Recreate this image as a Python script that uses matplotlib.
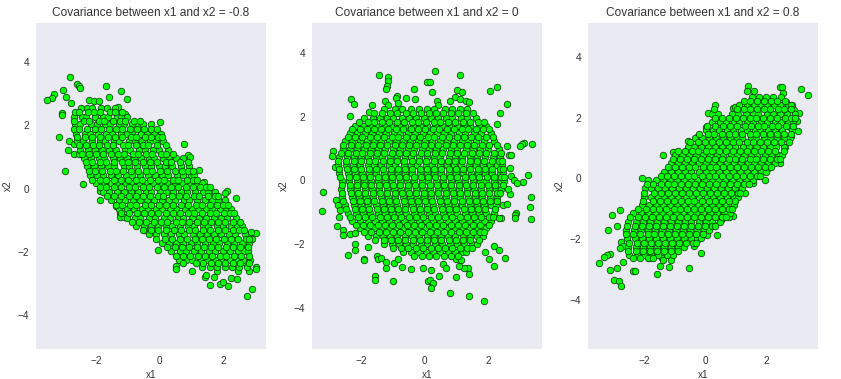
import matplotlib
matplotlib.use("Agg")
import matplotlib.pyplot as plt

TITLES = ["Covariance between x1 and x2 = -0.8", "Covariance between x1 and x2 = 0", "Covariance between x1 and x2 = 0.8"]
X_TICKS = [-2, 0, 2]
Y_TICKS = [-4, -2, 0, 2, 4]

# values: stray points first, then the dense middle as (x2, [x1, ...]) rows
neg_stray = [(-2.8,3.51),(-2.58,3.32),(-2.52,3.24),(-2.5,3.17),(-1.7,3.23),(-1.2,3.07),(-1.04,2.82),(-1.58,2.91),
    (-3.02,3.13),(-3.33,3.0),(-3.39,2.85),(-3.52,2.79),(-2.93,2.91),(-2.77,2.72),(-3.05,2.4),(-3.05,2.32),
    (-3.15,1.62),(-2.86,1.52),(-2.7,1.4),(-2.89,1.21),(-2.68,1.11),(-2.52,1.08),(-2.96,0.55),(-2.42,0.14),
    (-2.61,1.87),(-1.86,-0.06),(-1.86,-0.37),(-0.48,-1.31),(-0.07,-1.95),(0.77,1.4),(2.4,-0.3),(2.74,-3.39),
    (2.9,-3.18),(3.01,-2.46),(3.01,-2.54),(3.03,-1.41),(2.85,-1.38),(2.88,-1.6),(2.81,-2.59),(1.56,-3.05),
    (1.89,-3.02),(1.97,-2.94),(2.15,-3.07),(1.41,-2.79),(1.45,-2.72),(0.52,-2.44),(0.52,-2.52),(1.02,-2.61),
    (1.71,-2.8),(2.22,-2.83),(2.43,-2.86),(0.0,2.09),(0.87,1.06),(0.95,1.01),(1.24,0.58),(1.4,0.22),
    (2.1,-0.06),(2.06,-0.15),(-1.53,-0.25),(-1.37,-0.55),(-1.26,-0.78),(-1.24,-0.9),(-1.11,-0.9),(2.75,-1.85),
    (2.62,-2.3),(2.45,-2.6),(1.8,-2.6),(-1.3,2.58),(-1.08,2.37),(-2.22,2.8),(-2.05,2.76),(-1.9,2.78)]
neg_rows = [
    (2.55, [-2.47,-2.28,-2.11,-1.83,-1.66,-1.39]),
    (2.27, [-2.69,-2.44,-2.31,-2.02,-1.79,-1.62,-1.33,-1.21,-1.03]),
    (2.03, [-2.66,-2.49,-2.17,-1.98,-1.71,-1.56,-1.27,-1.12,-0.88,-0.67,-0.53,-0.26]),
    (1.74, [-2.63,-2.35,-2.19,-1.94,-1.68,-1.51,-1.22,-1.03,-0.86,-0.58,-0.41,-0.19,0.03]),
    (1.52, [-2.58,-2.41,-2.14,-1.87,-1.72,-1.43,-1.28,-0.97,-0.79,-0.55,-0.32,-0.13,0.09]),
    (1.23, [-2.49,-2.26,-2.03,-1.81,-1.58,-1.37,-1.09,-0.93,-0.64,-0.47,-0.21,-0.02,0.27]),
    (0.97, [-2.38,-2.16,-1.92,-1.74,-1.47,-1.24,-1.02,-0.81,-0.59,-0.33,-0.17,0.11,0.29,0.52,0.74]),
    (0.71, [-2.29,-2.07,-1.85,-1.61,-1.42,-1.13,-0.96,-0.72,-0.46,-0.29,-0.03,0.16,0.38,0.66,0.93]),
    (0.42, [-2.18,-1.97,-1.78,-1.52,-1.31,-1.06,-0.87,-0.63,-0.38,-0.14,0.08,0.27,0.55,0.73,0.98,1.08]),
    (0.18, [-1.99,-1.76,-1.54,-1.34,-1.08,-0.89,-0.66,-0.41,-0.22,0.04,0.23,0.47,0.69,0.94,1.13,1.33]),
    (-0.11, [-1.78,-1.59,-1.33,-1.12,-0.91,-0.69,-0.44,-0.26,0.02,0.18,0.43,0.67,0.86,1.11,1.36,1.52,1.73]),
    (-0.36, [-1.53,-1.28,-1.09,-0.83,-0.62,-0.39,-0.18,0.06,0.29,0.48,0.76,0.93,1.17,1.41,1.63,1.82,2.03]),
    (-0.64, [-1.27,-1.04,-0.82,-0.57,-0.38,-0.11,0.07,0.33,0.52,0.78,1.01,1.19,1.46,1.64,1.88,2.07,2.24]),
    (-0.92, [-1.04,-0.79,-0.61,-0.33,-0.14,0.12,0.31,0.57,0.74,1.02,1.23,1.44,1.69,1.91,2.12,2.4]),
    (-1.17, [-0.73,-0.49,-0.28,-0.06,0.19,0.38,0.63,0.88,1.07,1.34,1.52,1.78,1.97,2.22,2.41,2.58]),
    (-1.43, [-0.33,-0.12,0.13,0.34,0.59,0.77,1.04,1.26,1.47,1.71,1.93,2.17,2.36,2.68]),
    (-1.72, [0.07,0.29,0.51,0.73,0.99,1.18,1.42,1.66,1.87,2.11,2.33,2.57,2.79]),
    (-1.96, [0.36,0.62,0.83,1.06,1.29,1.53,1.72,1.98,2.21,2.44,2.63,2.78]),
    (-2.24, [0.59,0.81,1.02,1.28,1.49,1.74,1.93,2.19,2.38,2.61,2.84]),
    (-2.47, [1.31,1.58,1.79,2.03,2.27,2.49,2.73]),
    (2.41, [-2.66,-2.53,-2.24,-2.07,-1.88,-1.57,-1.41,-1.18]),
    (2.14, [-2.7,-2.39,-2.22,-1.91,-1.74,-1.48,-1.26,-1.08,-0.81,-0.62]),
    (1.88, [-2.68,-2.52,-2.29,-2.04,-1.83,-1.59,-1.36,-1.17,-0.94,-0.71,-0.48,-0.29,-0.08]),
    (1.63, [-2.61,-2.33,-2.12,-1.86,-1.63,-1.39,-1.18,-0.91,-0.74,-0.46,-0.27,-0.06,0.08]),
    (1.37, [-2.54,-2.31,-2.08,-1.9,-1.64,-1.46,-1.16,-0.99,-0.76,-0.52,-0.36,-0.09,0.18]),
    (1.09, [-2.44,-2.21,-1.99,-1.77,-1.54,-1.32,-1.11,-0.84,-0.68,-0.42,-0.23,0.03,0.21,0.43]),
    (0.84, [-2.32,-2.13,-1.88,-1.69,-1.44,-1.19,-0.99,-0.77,-0.53,-0.31,-0.08,0.19,0.36,0.62,0.87]),
    (0.56, [-2.23,-2.02,-1.81,-1.57,-1.36,-1.14,-0.91,-0.68,-0.44,-0.24,0.02,0.22,0.47,0.71,0.89,1.03]),
    (0.29, [-2.12,-1.88,-1.69,-1.43,-1.21,-1.01,-0.74,-0.56,-0.31,-0.07,0.13,0.41,0.58,0.84,1.03,1.18]),
    (0.04, [-1.88,-1.67,-1.42,-1.23,-0.97,-0.78,-0.53,-0.33,-0.09,0.14,0.36,0.57,0.82,1.03,1.26,1.44,1.57]),
    (-0.23, [-1.66,-1.44,-1.21,-0.98,-0.76,-0.53,-0.32,-0.07,0.11,0.37,0.59,0.81,1.06,1.24,1.51,1.72,1.84]),
    (-0.51, [-1.38,-1.17,-0.94,-0.73,-0.47,-0.26,-0.03,0.21,0.42,0.66,0.87,1.13,1.32,1.56,1.79,1.99,2.14]),
    (-0.78, [-1.21,-0.96,-0.72,-0.49,-0.27,-0.04,0.19,0.41,0.64,0.89,1.08,1.33,1.57,1.76,2.02,2.21,2.34]),
    (-1.05, [-0.87,-0.64,-0.43,-0.19,0.04,0.24,0.51,0.71,0.93,1.16,1.39,1.61,1.84,2.06,2.29,2.52]),
    (-1.31, [-0.53,-0.26,-0.04,0.21,0.44,0.66,0.91,1.11,1.37,1.58,1.82,2.03,2.28,2.47,2.64]),
    (-1.58, [-0.11,0.16,0.39,0.62,0.84,1.09,1.31,1.53,1.77,2.01,2.23,2.46,2.69,2.79]),
    (-1.84, [0.23,0.47,0.71,0.92,1.17,1.38,1.62,1.84,2.07,2.31,2.52,2.76]),
    (-2.11, [0.51,0.74,0.94,1.19,1.41,1.63,1.88,2.09,2.33,2.54,2.79]),
    (-2.36, [0.73,1.12,1.36,1.61,1.82,2.06,2.29,2.51,2.81]),
]

zero_stray = [(0.34,3.42),(1.12,3.3),(-1.42,3.3),(-1.14,3.23),(-1.14,3.11),(-1.18,2.97),(-1.2,2.86),(-0.32,2.86),(0.06,3.08),
    (0.16,3.08),(0.22,2.76),(1.02,2.84),(1.18,2.76),(2.05,2.8),(2.28,2.92),(2.6,2.39),(2.37,2.1),(2.28,1.76),(-2.3,2.54),
    (-2.21,2.39),(-2.34,2.03),(-1.64,2.36),(-1.74,2.14),(-0.58,2.58),(-0.29,2.54),(-0.86,2.64),(-0.89,2.58),(-0.83,2.42),
    (3.36,1.13),(3.13,1.16),(3.07,1.13),(3.0,1.07),(2.6,1.07),(2.66,0.79),(2.72,0.79),(2.69,0.38),(2.72,0.13),(3.26,0.16),
    (3.1,-0.06),(2.82,0.0),(2.91,-0.09),(2.69,-0.44),(2.63,-0.28),(3.35,-0.53),(3.32,-0.85),(3.35,-1.23),(2.88,-1.04),
    (2.85,-1.1),(2.85,-1.19),(2.41,-1.19),(2.35,-1.19),(2.47,-0.79),(2.6,-0.75),(-3.18,-0.38),(-3.21,-0.97),(-2.87,0.92),
    (-2.9,0.75),(-2.81,0.41),(-2.77,-0.63),(-2.71,-0.79),(-2.59,-0.63),(-2.65,-0.94),(-2.68,-1.16),(-2.74,-1.45),(-2.55,-1.57),
    (-2.55,-1.73),(-2.34,-1.7),(-2.18,-1.66),(-2.18,-2.01),(-2.18,-2.2),(-2.4,-2.36),(-1.9,-2.48),(-1.9,-2.51),(-1.77,-2.1),
    (-1.49,-2.39),(-1.46,-2.48),(-1.36,-2.45),(-1.2,-2.76),(-1.2,-2.58),(-1.55,-3.02),(-1.55,-3.14),(-0.98,-3.17),(-0.7,-2.73),
    (-0.42,-2.8),(-0.04,-2.76),(-0.95,-2.61),(-0.83,-2.48),(0.21,-2.83),(0.12,-3.17),(0.18,-3.14),(0.27,-3.24),(0.21,-3.39),
    (0.46,-3.02),(0.81,-3.55),(1.4,-3.64),(1.87,-3.8),(0.99,-3.05),(1.4,-2.95),(1.37,-2.76),(1.25,-2.76),(1.09,-2.7),(0.59,-2.64),
    (0.68,-2.76),(2.19,-2.7),(2.03,-2.48),(2.53,-2.45),(2.35,-2.2),(2.19,-2.07),(1.91,-2.26),(0.99,-2.48),(1.15,-2.51),
    (0.4,2.5),(0.42,2.38),(0.8,2.48),(0.95,2.6),(1.1,2.55),(1.3,2.48),(1.4,2.45),(-1.25,2.5),(-1.15,2.35)]
zero_rows = [
    (2.25, [-1.27,-0.93,-0.71,-0.44,-0.18,0.09,0.31,0.63,0.87,1.12,1.33]),
    (1.97, [-1.89,-1.62,-1.41,-1.17,-0.98,-0.72,-0.49,-0.28,-0.03,0.19,0.42,0.68,0.86,1.13,1.34,1.61]),
    (1.72, [-2.18,-1.94,-1.73,-1.52,-1.26,-1.07,-0.81,-0.62,-0.36,-0.13,0.07,0.33,0.54,0.77,1.01,1.23,1.44,1.71,1.93]),
    (1.48, [-2.34,-2.12,-1.87,-1.66,-1.44,-1.21,-0.97,-0.76,-0.53,-0.31,-0.06,0.16,0.38,0.62,0.83,1.09,1.27,1.54,1.76,2.08]),
    (1.24, [-2.49,-2.27,-2.04,-1.81,-1.58,-1.36,-1.13,-0.89,-0.67,-0.46,-0.22,0.02,0.24,0.47,0.71,0.92,1.18,1.37,1.62,1.87,2.18]),
    (0.99, [-2.58,-2.36,-2.13,-1.92,-1.67,-1.46,-1.24,-0.99,-0.78,-0.53,-0.34,-0.08,0.13,0.37,0.59,0.84,1.03,1.29,1.52,1.74,1.98,2.33]),
    (0.73, [-2.69,-2.44,-2.22,-2.01,-1.77,-1.54,-1.33,-1.08,-0.87,-0.63,-0.42,-0.17,0.06,0.28,0.49,0.76,0.97,1.19,1.43,1.66,1.89,2.14,2.38]),
    (0.48, [-2.71,-2.48,-2.26,-2.04,-1.79,-1.58,-1.36,-1.11,-0.92,-0.66,-0.44,-0.23,0.03,0.22,0.47,0.69,0.93,1.14,1.38,1.61,1.83,2.07,2.28,2.44]),
    (0.23, [-2.68,-2.42,-2.19,-1.98,-1.74,-1.52,-1.29,-1.06,-0.83,-0.61,-0.39,-0.14,0.08,0.31,0.53,0.77,0.99,1.22,1.46,1.67,1.91,2.12,2.36,2.47]),
    (-0.02, [-2.61,-2.37,-2.14,-1.91,-1.69,-1.47,-1.23,-1.01,-0.77,-0.56,-0.32,-0.09,0.12,0.37,0.58,0.82,1.04,1.26,1.51,1.73,1.94,2.19,2.41,2.5]),
    (-0.27, [-2.62,-2.33,-2.11,-1.87,-1.66,-1.42,-1.19,-0.96,-0.74,-0.52,-0.27,-0.06,0.17,0.41,0.63,0.86,1.07,1.33,1.54,1.78,2.01,2.23,2.41]),
    (-0.52, [-2.59,-2.28,-2.06,-1.83,-1.61,-1.38,-1.16,-0.92,-0.69,-0.47,-0.24,-0.01,0.21,0.46,0.67,0.91,1.12,1.36,1.59,1.81,2.04,2.29]),
    (-0.77, [-2.49,-2.23,-1.99,-1.78,-1.54,-1.32,-1.09,-0.86,-0.63,-0.41,-0.18,0.06,0.27,0.51,0.73,0.96,1.19,1.42,1.64,1.88,2.09,2.24]),
    (-1.02, [-2.41,-2.16,-1.94,-1.71,-1.47,-1.26,-1.02,-0.79,-0.57,-0.34,-0.11,0.13,0.34,0.57,0.81,1.02,1.26,1.48,1.71,1.93,2.19]),
    (-1.27, [-2.29,-2.02,-1.79,-1.57,-1.34,-1.11,-0.88,-0.66,-0.43,-0.19,0.03,0.26,0.48,0.72,0.94,1.17,1.41,1.63,1.86,2.09]),
    (-1.51, [-2.04,-1.81,-1.59,-1.36,-1.13,-0.91,-0.68,-0.44,-0.22,0.01,0.24,0.47,0.69,0.93,1.16,1.38,1.62,1.83,1.94]),
    (-1.76, [-1.79,-1.54,-1.31,-1.08,-0.86,-0.63,-0.41,-0.17,0.06,0.28,0.52,0.74,0.97,1.21,1.43,1.66,1.84]),
    (-2.01, [-1.29,-1.04,-0.82,-0.59,-0.36,-0.12,0.09,0.33,0.56,0.79,1.03,1.24,1.49,1.64]),
    (-2.26, [-0.69,-0.43,-0.21,0.04,0.27,0.49,0.73,0.96,1.18,1.29]),
    (2.12, [-1.58,-1.33,-1.09,-0.86,-0.58,-0.37,-0.11,0.14,0.36,0.58,0.82,1.06,1.29,1.51]),
    (1.84, [-2.06,-1.79,-1.58,-1.33,-1.12,-0.87,-0.66,-0.41,-0.21,0.04,0.28,0.49,0.74,0.94,1.21,1.42,1.68,1.86]),
    (1.61, [-2.27,-2.03,-1.81,-1.59,-1.36,-1.14,-0.89,-0.68,-0.43,-0.22,0.02,0.26,0.46,0.71,0.93,1.16,1.37,1.61,1.84,2.03]),
    (1.37, [-2.42,-2.19,-1.96,-1.73,-1.51,-1.29,-1.04,-0.83,-0.58,-0.37,-0.14,0.11,0.31,0.56,0.78,1.01,1.23,1.47,1.69,1.92,2.14]),
    (1.11, [-2.56,-2.31,-2.08,-1.84,-1.63,-1.39,-1.17,-0.94,-0.71,-0.49,-0.26,-0.03,0.19,0.42,0.66,0.88,1.11,1.34,1.56,1.79,2.03,2.27]),
    (0.86, [-2.64,-2.4,-2.17,-1.96,-1.71,-1.49,-1.27,-1.03,-0.81,-0.58,-0.36,-0.12,0.09,0.33,0.56,0.79,1.02,1.24,1.48,1.71,1.93,2.17,2.39]),
    (0.61, [-2.71,-2.46,-2.23,-2.01,-1.76,-1.56,-1.31,-1.09,-0.86,-0.64,-0.41,-0.17,0.04,0.28,0.51,0.74,0.97,1.19,1.42,1.66,1.88,2.11,2.34,2.43]),
    (0.36, [-2.7,-2.44,-2.21,-1.99,-1.76,-1.53,-1.31,-1.07,-0.84,-0.62,-0.39,-0.16,0.07,0.29,0.53,0.76,0.98,1.21,1.44,1.68,1.89,2.13,2.37,2.46]),
    (0.11, [-2.66,-2.39,-2.16,-1.94,-1.71,-1.48,-1.26,-1.03,-0.79,-0.57,-0.34,-0.11,0.12,0.34,0.57,0.81,1.03,1.26,1.49,1.72,1.96,2.18,2.41,2.49]),
    (-0.14, [-2.6,-2.36,-2.12,-1.89,-1.67,-1.44,-1.21,-0.99,-0.76,-0.53,-0.29,-0.07,0.16,0.39,0.61,0.84,1.07,1.31,1.53,1.76,1.99,2.22,2.46]),
    (-0.39, [-2.61,-2.31,-2.08,-1.86,-1.63,-1.41,-1.17,-0.94,-0.72,-0.49,-0.26,-0.03,0.19,0.43,0.66,0.88,1.11,1.34,1.57,1.79,2.03,2.26,2.36]),
    (-0.64, [-2.55,-2.26,-2.03,-1.81,-1.58,-1.34,-1.12,-0.89,-0.66,-0.44,-0.21,0.02,0.24,0.48,0.71,0.93,1.16,1.39,1.62,1.84,2.07,2.27]),
    (-0.89, [-2.46,-2.19,-1.97,-1.74,-1.51,-1.28,-1.06,-0.83,-0.61,-0.38,-0.14,0.09,0.31,0.54,0.77,0.99,1.23,1.46,1.68,1.91,2.21]),
    (-1.14, [-2.36,-2.09,-1.86,-1.64,-1.41,-1.18,-0.96,-0.73,-0.49,-0.27,-0.04,0.19,0.41,0.64,0.87,1.11,1.33,1.56,1.78,2.01,2.14]),
    (-1.39, [-2.17,-1.93,-1.71,-1.47,-1.24,-1.02,-0.79,-0.56,-0.33,-0.11,0.14,0.36,0.59,0.82,1.04,1.27,1.51,1.73,2.01]),
    (-1.63, [-1.92,-1.67,-1.44,-1.22,-0.99,-0.76,-0.53,-0.31,-0.07,0.16,0.38,0.61,0.84,1.07,1.29,1.53,1.74,1.88]),
    (-1.88, [-1.56,-1.29,-1.07,-0.84,-0.61,-0.38,-0.16,0.08,0.31,0.53,0.76,0.99,1.22,1.44,1.72]),
    (-2.13, [-0.98,-0.73,-0.51,-0.28,-0.04,0.19,0.42,0.64,0.87,1.11,1.33,1.49]),
    (-2.38, [-0.33,-0.09,0.14,0.37,0.61,0.84,1.06]),
]

pos_stray = [(3.13,2.93),(3.37,2.74),(1.4,3.03),(1.37,2.87),(1.6,2.87),(2.45,3.0),(2.53,3.0),(2.55,2.8),(0.32,2.41),(-1.39,0.76),
    (-2.08,0.0),(1.96,-0.07),(1.3,-0.49),(0.38,-1.88),(0.05,-1.88),(-0.14,-2.47),(-0.54,-2.97),(-1.59,-3.16),(-1.49,-2.9),
    (-1.19,-2.93),(-2.8,-1.05),(-3.07,-1.22),(-2.9,-1.58),(-3.2,-1.71),(-2.77,-2.11),(-2.71,-2.24),(-2.8,-2.31),(-3.13,-2.49),
    (-3.23,-2.54),(-3.33,-2.6),(-3.49,-2.8),(-3.13,-3.03),(-2.9,-2.97),(-3.0,-3.36),(-2.84,-3.4),(-2.77,-3.56),(-2.71,-2.77),
    (-2.38,-3.07),(-2.31,-3.07),(-1.85,-2.64),(-1.42,-2.64),(-1.39,-2.7),(-1.13,-2.7),(-1.06,-2.54),(-1.26,-2.44),(3.04,1.55),
    (3.01,1.88),(3.08,2.14),(2.81,1.38),(2.78,1.68),(2.45,0.49),(2.62,1.02),(2.02,0.32),(1.73,0.07),(1.56,-0.16),(0.91,-1.26),
    (0.78,-1.29),(0.51,-1.38),(0.25,-1.52),(0.94,-0.79),(-0.27,-2.04),(-0.37,-2.24),(-0.77,-2.21),(-1.0,0.86),(-1.06,0.86),
    (-0.57,1.22),(-0.24,1.38),(0.09,2.14),(0.02,1.68),(0.91,2.31),(0.97,2.34),(1.5,2.45),(2.85,2.4),(2.9,2.25),(2.65,2.5)]
pos_rows = [
    (2.68, [1.52,1.77,1.98,2.23,2.47]),
    (2.41, [1.12,1.37,1.61,1.79,2.03,2.26,2.44,2.71,2.83]),
    (2.13, [0.23,0.41,0.87,1.09,1.33,1.56,1.74,2.01,2.22,2.46,2.68,2.93]),
    (1.86, [0.22,0.47,0.69,0.93,1.11,1.37,1.58,1.83,2.04,2.29,2.48,2.73,2.89]),
    (1.58, [0.01,0.26,0.44,0.71,0.92,1.16,1.38,1.62,1.81,2.07,2.28,2.53,2.86]),
    (1.32, [-0.34,-0.11,0.13,0.34,0.57,0.81,1.03,1.22,1.49,1.68,1.93,2.14,2.37,2.58,2.79]),
    (1.04, [-0.58,-0.37,-0.13,0.08,0.32,0.54,0.78,0.97,1.23,1.44,1.67,1.89,2.12,2.33,2.57]),
    (0.77, [-1.0,-0.78,-0.54,-0.31,-0.09,0.14,0.37,0.58,0.83,1.04,1.27,1.49,1.71,1.96,2.17,2.38,2.51]),
    (0.49, [-1.11,-0.89,-0.66,-0.42,-0.21,0.03,0.26,0.47,0.72,0.93,1.16,1.39,1.61,1.84,2.06,2.29]),
    (0.22, [-1.37,-1.13,-0.91,-0.67,-0.46,-0.22,0.01,0.23,0.46,0.69,0.91,1.14,1.38,1.59,1.82,2.0]),
    (-0.06, [-1.87,-1.63,-1.39,-1.17,-0.94,-0.71,-0.48,-0.26,-0.03,0.21,0.43,0.66,0.89,1.11,1.34,1.58]),
    (-0.33, [-1.99,-1.77,-1.54,-1.31,-1.08,-0.86,-0.62,-0.39,-0.17,0.07,0.29,0.52,0.74,0.98,1.21]),
    (-0.61, [-2.02,-1.79,-1.56,-1.34,-1.11,-0.88,-0.64,-0.42,-0.19,0.04,0.26,0.49,0.72,0.94,1.09]),
    (-0.88, [-2.09,-1.84,-1.61,-1.38,-1.16,-0.93,-0.69,-0.47,-0.24,-0.02,0.22,0.44,0.67,0.93]),
    (-1.16, [-2.36,-2.11,-1.88,-1.66,-1.42,-1.19,-0.97,-0.74,-0.51,-0.29,-0.06,0.17,0.39,0.62,0.82]),
    (-1.43, [-2.53,-2.28,-2.04,-1.82,-1.59,-1.37,-1.13,-0.91,-0.68,-0.46,-0.22,0.01,0.23,0.48]),
    (-1.71, [-2.59,-2.33,-2.11,-1.88,-1.64,-1.42,-1.19,-0.96,-0.73,-0.51,-0.27,-0.04,0.11]),
    (-1.98, [-2.58,-2.31,-2.08,-1.86,-1.62,-1.39,-1.17,-0.94,-0.71,-0.48,-0.26,-0.14]),
    (-2.26, [-2.54,-2.29,-2.06,-1.83,-1.59,-1.37,-1.14,-0.91,-0.69]),
    (-2.53, [-2.49,-2.24,-2.01,-1.77,-1.54,-1.27]),
    (2.55, [1.27,1.47,1.71,1.92,2.16,2.37,2.62]),
    (2.27, [0.29,1.03,1.26,1.47,1.69,1.93,2.12,2.38,2.57,2.82]),
    (1.99, [0.31,0.56,0.79,1.02,1.24,1.47,1.66,1.91,2.14,2.37,2.61,2.81,2.94]),
    (1.72, [0.07,0.33,0.58,0.81,1.04,1.29,1.49,1.72,1.94,2.18,2.39,2.64,2.88]),
    (1.45, [-0.19,0.09,0.29,0.54,0.77,0.99,1.21,1.46,1.67,1.91,2.12,2.36,2.59,2.83]),
    (1.18, [-0.49,-0.24,-0.01,0.21,0.44,0.67,0.92,1.12,1.36,1.58,1.81,2.03,2.26,2.49,2.76]),
    (0.91, [-0.89,-0.68,-0.44,-0.23,0.02,0.23,0.46,0.69,0.91,1.14,1.37,1.59,1.82,2.06,2.28,2.59]),
    (0.63, [-1.06,-0.83,-0.59,-0.36,-0.14,0.09,0.32,0.54,0.77,0.99,1.22,1.46,1.68,1.91,2.13,2.36,2.44]),
    (0.36, [-1.24,-1.01,-0.77,-0.54,-0.33,-0.09,0.14,0.36,0.59,0.82,1.04,1.28,1.51,1.73,1.96,2.16]),
    (0.08, [-1.47,-1.27,-1.04,-0.81,-0.58,-0.36,-0.12,0.11,0.33,0.56,0.79,1.01,1.24,1.47,1.69,1.79]),
    (-0.19, [-1.92,-1.71,-1.47,-1.24,-1.02,-0.79,-0.56,-0.33,-0.11,0.13,0.36,0.58,0.81,1.04,1.26,1.44]),
    (-0.47, [-2.0,-1.68,-1.44,-1.22,-0.99,-0.76,-0.53,-0.31,-0.08,0.16,0.38,0.61,0.83,1.06,1.14]),
    (-0.74, [-2.06,-1.73,-1.49,-1.27,-1.04,-0.81,-0.58,-0.36,-0.12,0.11,0.33,0.56,0.79,0.99]),
    (-1.02, [-2.2,-1.96,-1.73,-1.51,-1.28,-1.04,-0.82,-0.59,-0.37,-0.13,0.09,0.32,0.54,0.78,0.89]),
    (-1.29, [-2.47,-2.21,-1.97,-1.74,-1.52,-1.29,-1.06,-0.83,-0.61,-0.37,-0.14,0.08,0.31,0.54,0.69]),
    (-1.57, [-2.57,-2.31,-2.07,-1.84,-1.62,-1.39,-1.16,-0.93,-0.71,-0.47,-0.24,-0.02,0.21,0.33]),
    (-1.84, [-2.6,-2.36,-2.13,-1.89,-1.67,-1.44,-1.21,-0.99,-0.76,-0.53,-0.31,-0.06]),
    (-2.12, [-2.51,-2.24,-2.01,-1.78,-1.56,-1.33,-1.09,-0.87,-0.64,-0.41,-0.31]),
    (-2.39, [-2.55,-2.29,-2.04,-1.81,-1.59,-1.36,-1.12,-0.89]),
    (-2.64, [-2.38,-2.13,-1.88,-1.72]),
]

XLIMS = [(-3.88, 3.33), (-3.54, 3.69), (-3.85, 3.70)]
YLIMS = [(-5.06, 5.23), (-5.30, 4.94), (-5.63, 5.12)]
AX_LEFT_PX = [36, 312, 588]


def to_xy(stray, rows):
    xs = [p[0] for p in stray]
    ys = [p[1] for p in stray]
    for x2, x1_vals in rows:
        for x1 in x1_vals:
            xs.append(x1)
            ys.append(x2)
    return xs, ys


def main():
    plt.rcParams["font.family"] = ["Liberation Sans", "DejaVu Sans"]
    fig = plt.figure(figsize=(8.41, 3.79), dpi=100)
    panels = [(neg_stray, neg_rows), (zero_stray, zero_rows), (pos_stray, pos_rows)]
    for i, (stray, rows) in enumerate(panels):
        ax = fig.add_axes([AX_LEFT_PX[i] / 841, 30 / 379, 230 / 841, 326 / 379])
        xs, ys = to_xy(stray, rows)
        ax.scatter(xs, ys, s=22, c="#00ff00", edgecolors="#0a3a0a", linewidths=0.55, zorder=2)
        ax.set_facecolor("#EAEAF2")
        ax.set_xlim(*XLIMS[i])
        ax.set_ylim(*YLIMS[i])
        ax.set_xticks(X_TICKS)
        ax.set_yticks(Y_TICKS)
        ax.tick_params(length=0, labelsize=7.2, labelcolor="#333333", pad=5)
        for spine in ax.spines.values():
            spine.set_visible(False)
        ax.set_xlabel("x1", fontsize=7.2, color="#333333", labelpad=3)
        ax.set_ylabel("x2", fontsize=7.2, color="#333333", labelpad=3)
        ax.set_title(TITLES[i], fontsize=8.6, color="#333333", pad=5)
    fig.savefig("out.png", dpi=100, facecolor="white")


if __name__ == "__main__":
    main()
